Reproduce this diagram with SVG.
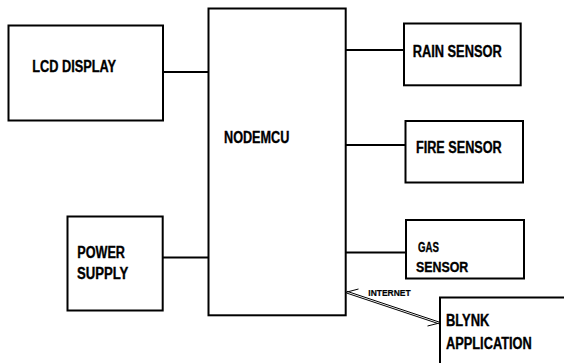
<svg xmlns="http://www.w3.org/2000/svg" width="564" height="363" viewBox="0 0 564 363">
<style>
.box{fill:#fff;stroke:#000;stroke-width:2}
.ln{stroke:#000;stroke-width:2;fill:none}
.thin{stroke:#000;stroke-width:1;fill:none}
text{font-family:"Liberation Sans",Arial,sans-serif;font-weight:bold;font-size:16px;fill:#000;stroke:#000;stroke-width:0.35}
</style>
<rect width="564" height="363" fill="#fff"/>
<g id="connectors">
<line class="ln" x1="163" y1="72" x2="209" y2="72"/>
<line class="ln" x1="163" y1="257.5" x2="209" y2="257.5"/>
<line class="ln" x1="346" y1="50" x2="404" y2="50"/>
<line class="ln" x1="346" y1="145" x2="405.5" y2="145"/>
<line class="ln" x1="346" y1="252.5" x2="406" y2="252.5"/>
<line class="thin" x1="347" y1="291.3" x2="439" y2="322"/>
<line class="thin" x1="346.5" y1="293" x2="438.5" y2="323.7"/>
<line class="thin" x1="346" y1="292.3" x2="358.5" y2="289"/>
<line class="thin" x1="439.5" y1="323" x2="427.5" y2="326"/>
<text x="368.3" y="295.7" style="font-size:9px;stroke-width:0.2" textLength="42.4" lengthAdjust="spacingAndGlyphs">INTERNET</text>
</g>
<g id="lcd">
<rect class="box" x="8.5" y="25.5" width="154.5" height="95"/>
<text x="32.3" y="71.7" textLength="83.7" lengthAdjust="spacingAndGlyphs">LCD DISPLAY</text>
</g>
<g id="nodemcu">
<rect class="box" x="208.5" y="8.5" width="137.2" height="306.8"/>
<text x="224" y="143.3" textLength="65.3" lengthAdjust="spacingAndGlyphs">NODEMCU</text>
</g>
<g id="rain">
<rect class="box" x="404" y="23.5" width="116.7" height="61.8"/>
<text x="412.7" y="56.7" textLength="89" lengthAdjust="spacingAndGlyphs">RAIN SENSOR</text>
</g>
<g id="fire">
<rect class="box" x="405.5" y="121" width="117.5" height="61.5"/>
<text x="416" y="153.3" textLength="85.7" lengthAdjust="spacingAndGlyphs">FIRE SENSOR</text>
</g>
<g id="gas">
<rect class="box" x="406" y="220" width="118" height="58.5"/>
<text x="418" y="252.3" style="font-size:15px" textLength="21" lengthAdjust="spacingAndGlyphs">GAS</text>
<text x="416" y="271.7" style="font-size:15px" textLength="52.3" lengthAdjust="spacingAndGlyphs">SENSOR</text>
</g>
<g id="power">
<rect class="box" x="67.5" y="216.5" width="95.2" height="94"/>
<text x="77.3" y="257.7" textLength="47.7" lengthAdjust="spacingAndGlyphs">POWER</text>
<text x="77" y="279" textLength="51.3" lengthAdjust="spacingAndGlyphs">SUPPLY</text>
</g>
<g id="blynk">
<rect class="box" x="440" y="297.5" width="130" height="70"/>
<text x="446" y="326" textLength="43.3" lengthAdjust="spacingAndGlyphs">BLYNK</text>
<text x="446" y="349.3" textLength="85.7" lengthAdjust="spacingAndGlyphs">APPLICATION</text>
</g>
</svg>
